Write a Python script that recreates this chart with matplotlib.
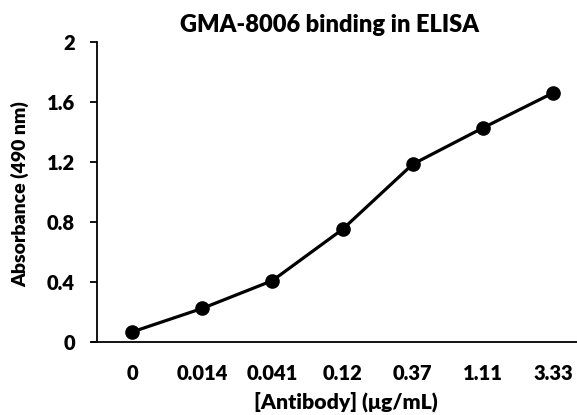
import matplotlib
matplotlib.use("Agg")
import matplotlib.pyplot as plt

categories = ["0", "0.014", "0.041", "0.12", "0.37", "1.11", "3.33"]
absorbance = [0.067, 0.224, 0.409, 0.751, 1.185, 1.427, 1.66]
y_ticks = [0, 0.4, 0.8, 1.2, 1.6, 2.0]
y_tick_labels = ["0", "0.4", "0.8", "1.2", "1.6", "2"]

plt.rcParams['font.family'] = ['Lato', 'DejaVu Sans']
plt.rcParams['font.weight'] = 'bold'

fig = plt.figure(figsize=(5.77, 4.15), dpi=100)
ax = fig.add_axes([97/577, 73/415, 491/577, 300/415])

x = list(range(len(categories)))
ax.plot(x, absorbance, color='black', lw=2.3, marker='o', markersize=9.5, clip_on=False, zorder=3)

ax.set_xlim(-0.5, len(categories) - 0.5)
ax.set_ylim(0, 2)
ax.set_xticks(x)
ax.set_xticklabels(categories, fontsize=14.5, fontweight='heavy')
ax.set_yticks(y_ticks)
ax.set_yticklabels(y_tick_labels, fontsize=14.5, fontweight='heavy')
ax.tick_params(axis='x', length=0, pad=16)
ax.tick_params(axis='y', length=5, width=1.3, pad=11, direction='out')

for s in ['top', 'right']:
    ax.spines[s].set_visible(False)
ax.spines['left'].set_linewidth(1.3)
ax.spines['bottom'].set_linewidth(1.3)
ax.spines['bottom'].set_bounds(-0.5 - 5/70.2, len(categories) - 0.5)

fig.text(330/577, 1 - 25/415, "GMA-8006 binding in ELISA", ha='center', va='center',
         fontsize=17, fontweight='heavy')
fig.text(20/577, 1 - 194/415, "Absorbance (490 nm)", ha='center', va='center',
         rotation=90, fontsize=14, fontweight='heavy')
fig.text(346/577, 1 - 402/415, "[Antibody] (μg/mL)", ha='center', va='center',
         fontsize=15.3, fontweight='heavy')

fig.savefig("out.png", dpi=100)
